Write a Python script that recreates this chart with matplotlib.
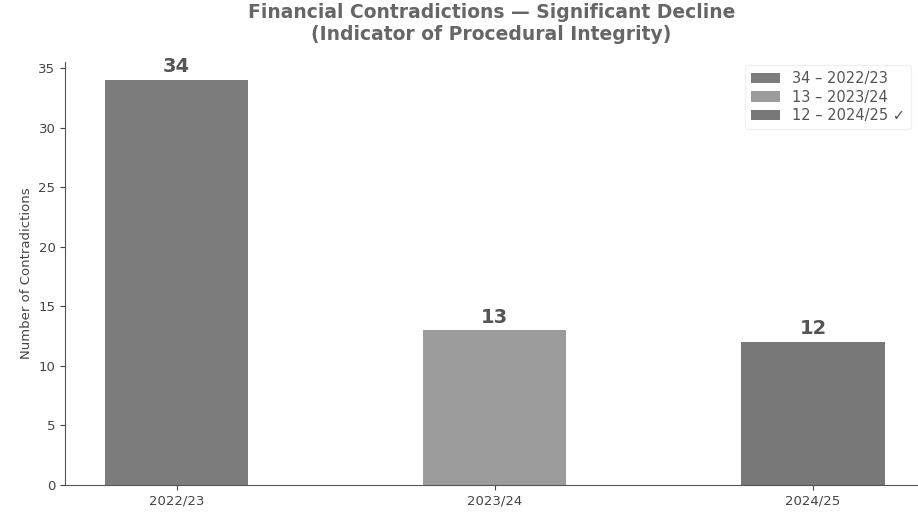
import matplotlib
matplotlib.use("Agg")
import matplotlib.pyplot as plt

categories = ["2022/23", "2023/24", "2024/25"]
values = [34, 13, 12]
legend_labels = ["34 – 2022/23", "13 – 2023/24", "12 – 2024/25 ✓"]
colors = ["#7c7c7c", "#9c9c9c", "#787878"]

plt.rcParams['font.family'] = ['DejaVu Sans']
fig = plt.figure(figsize=(9.18, 5.17), dpi=100)
ax = fig.add_axes([0.071, 0.062, 0.929, 0.818])

x = range(len(categories))
bars = ax.bar(x, values, width=0.45, color=colors)
for b, lab in zip(bars, legend_labels):
    b.set_label(lab)

for b, v in zip(bars, values):
    ax.text(b.get_x() + b.get_width() / 2, v + 0.3, str(v), ha='center', va='bottom',
            fontsize=14, fontweight='bold', color='#555555')

ax.set_xticks(list(x))
ax.set_xticklabels(categories, fontsize=9.5, color='#444444')
ax.tick_params(axis='y', labelsize=9.5, colors='#444444')
ax.tick_params(axis='x', colors='#444444')
ax.set_xlim(-0.35, 2.33)
ax.set_ylim(0, 35.5)
ax.set_ylabel("Number of Contradictions", fontsize=9.5, color='#444444')
for s in ['top', 'right']:
    ax.spines[s].set_visible(False)
for s in ['left', 'bottom']:
    ax.spines[s].set_color('#555555')

ax.set_title("Financial Contradictions — Significant Decline\n(Indicator of Procedural Integrity)",
             fontsize=13.5, fontweight='bold', color='#666666', pad=16)

leg = ax.legend(loc='upper right', fontsize=10.5, frameon=True, labelspacing=0.25,
                bbox_to_anchor=(1.0, 1.01))
leg.get_frame().set_edgecolor('#eeeeee')
for t in leg.get_texts():
    t.set_color('#555555')

fig.savefig("out.png", dpi=100)
